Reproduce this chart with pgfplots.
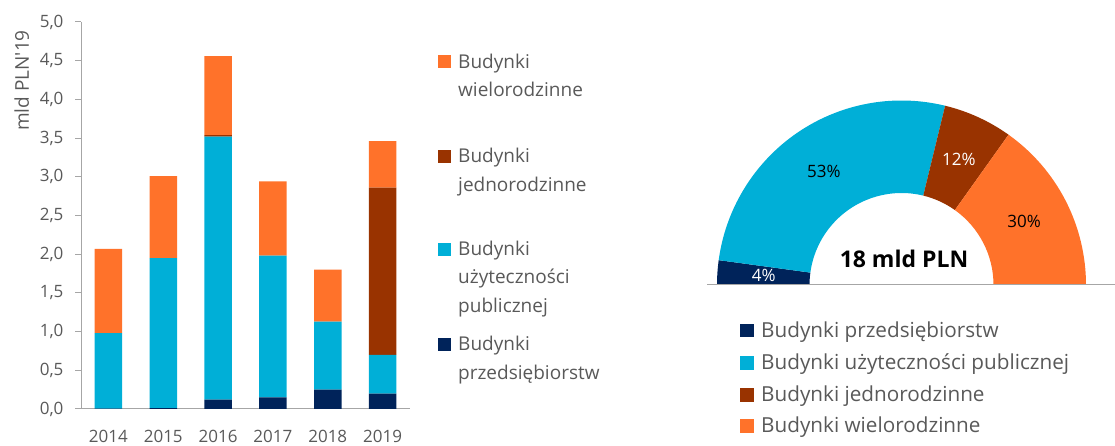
\documentclass[border=0pt]{standalone}
\usepackage{pgfplots}
\pgfplotsset{compat=1.18}
\usepackage{pgfplotstable}
\usepackage{fontspec}
\setmainfont{Open Sans}

\definecolor{cNavy}{RGB}{0,35,90}
\definecolor{cBlue}{RGB}{0,175,215}
\definecolor{cBrown}{RGB}{153,51,0}
\definecolor{cOrange}{RGB}{255,114,42}
\definecolor{cText}{RGB}{89,89,89}
\definecolor{cAxis}{RGB}{166,166,166}

% mld PLN'19 per year
\pgfplotstableread{
x przeds publ jedno wielo
0 0.005 0.975 0.00 1.09
1 0.010 1.940 0.00 1.06
2 0.120 3.400 0.02 1.02
3 0.150 1.830 0.00 0.96
4 0.250 0.880 0.00 0.67
5 0.200 0.500 2.16 0.60
}\bars

% share of total, per cent
\def\vPrz{4.3}
\def\vPub{53.3}
\def\vJed{12.1}
\def\vWie{30.3}

\newcommand{\slice}[3]{%
  \fill[#3] ([shift={(#1:92pt)}]axis cs:0,0) -- ([shift={(#1:184.5pt)}]axis cs:0,0)
    arc[start angle=#1,end angle=#2,radius=184.5pt]
    -- ([shift={(#2:92pt)}]axis cs:0,0)
    arc[start angle=#2,end angle=#1,radius=92pt] -- cycle;}

\newcommand{\legfont}{\fontsize{19}{22}\selectfont}
\newcommand{\legfontB}{\fontsize{20.7}{24}\selectfont}

\begin{document}
\begin{tikzpicture}
\path[use as bounding box] (0,0) rectangle (1115pt,446pt);

\begin{axis}[
  at={(81pt,37pt)}, anchor=south west,
  scale only axis, width=329pt, height=387pt,
  ybar stacked, bar width=27.5pt,
  xmin=-0.5, xmax=5.5, ymin=0, ymax=5,
  xtick={0,...,5}, xticklabels={2014,2015,2016,2017,2018,2019},
  ytick={0,0.5,...,5},
  axis x line*=bottom, axis y line*=left,
  axis line style={cAxis, line width=1pt},
  tick align=outside, major tick length=6pt,
  xtick style={draw=none},
  ytick style={cAxis, line width=1pt},
  ticklabel style={text=cText, font=\fontsize{17}{20}\selectfont},
  /pgf/number format/assume math mode=true,
  yticklabel style={xshift=-8pt, /pgf/number format/.cd, fixed, fixed zerofill, precision=1, use comma},
  xticklabel style={yshift=-12pt},
]
\addplot[fill=cNavy, draw=none] table[x=x, y=przeds]{\bars};
\addplot[fill=cBlue, draw=none] table[x=x, y=publ]{\bars};
\addplot[fill=cBrown, draw=none] table[x=x, y=jedno]{\bars};
\addplot[fill=cOrange, draw=none] table[x=x, y=wielo]{\bars};
\end{axis}

\node[rotate=90, anchor=east, text=cText, font=\fontsize{19}{22}\selectfont, inner sep=0pt]
  at (21.7pt,416pt) {mld PLN\textquotesingle 19};

% middle legend
\begin{scope}[every node/.style={anchor=base west, inner sep=0pt, text=cText, font=\legfont}]
\fill[cOrange] (438pt,378.3pt) rectangle ++(13pt,13pt);
\node at (458pt,377.7pt) {Budynki};
\node at (458pt,349.3pt) {wielorodzinne};
\fill[cBrown] (438pt,283.3pt) rectangle ++(13pt,13pt);
\node at (458pt,283.3pt) {Budynki};
\node at (458pt,254.3pt) {jednorodzinne};
\fill[cBlue] (438pt,190pt) rectangle ++(13pt,13pt);
\node at (458pt,190pt) {Budynki};
\node at (458pt,162pt) {użyteczności};
\node at (458pt,133.3pt) {publicznej};
\fill[cNavy] (438pt,95pt) rectangle ++(13pt,13pt);
\node at (458pt,95pt) {Budynki};
\node at (458pt,66.7pt) {przedsiębiorstw};
\end{scope}

\pgfmathsetmacro\aA{180}
\pgfmathsetmacro\aB{\aA-1.8*\vPrz}
\pgfmathsetmacro\aC{\aB-1.8*\vPub}
\pgfmathsetmacro\aD{\aC-1.8*\vJed}
\pgfmathsetmacro\aE{\aD-1.8*\vWie}

\begin{axis}[
  at={(717pt,161pt)}, anchor=south west,
  scale only axis, width=369pt, height=185pt,
  xmin=-184.5, xmax=184.5, ymin=0, ymax=185,
  hide axis, clip=true,
]
\slice{\aA}{\aB}{cNavy}
\slice{\aB}{\aC}{cBlue}
\slice{\aC}{\aD}{cBrown}
\slice{\aD}{\aE}{cOrange}
\pgfmathsetmacro\mA{(\aA+\aB)/2}
\pgfmathsetmacro\mB{(\aB+\aC)/2}
\pgfmathsetmacro\mC{(\aC+\aD)/2}
\pgfmathsetmacro\mD{(\aD+\aE)/2}
\node[text=white, font=\fontsize{17}{20}\selectfont] at ([shift={(\mA:138pt)}]axis cs:0,0) {4\%};
\node[text=black, font=\fontsize{17}{20}\selectfont] at ([shift={(\mB:138pt)}]axis cs:0,0) {53\%};
\node[text=white, font=\fontsize{17}{20}\selectfont] at ([shift={(\mC:138pt)}]axis cs:0,0) {12\%};
\node[text=black, font=\fontsize{17}{20}\selectfont] at ([shift={(\mD:138pt)}]axis cs:0,0) {30\%};
\node[font=\bfseries\fontsize{23}{26}\selectfont] at (axis cs:2.5,26) {18 mld PLN};
\end{axis}

\draw[cAxis, line width=1pt] (707pt,161pt) -- (1115pt,161pt);

% bottom legend
\begin{scope}[every node/.style={anchor=base west, inner sep=0pt, text=cText, font=\legfontB}]
\fill[cNavy] (740pt,108.7pt) rectangle ++(13.5pt,13.5pt);
\node at (761pt,108.7pt) {Budynki przedsiębiorstw};
\fill[cBlue] (740pt,76pt) rectangle ++(13.5pt,13.5pt);
\node at (761pt,76pt) {Budynki użyteczności publicznej};
\fill[cBrown] (740pt,44.3pt) rectangle ++(13.5pt,13.5pt);
\node at (761pt,44.3pt) {Budynki jednorodzinne};
\fill[cOrange] (740pt,13.3pt) rectangle ++(13.5pt,13.5pt);
\node at (761pt,13.3pt) {Budynki wielorodzinne};
\end{scope}
\end{tikzpicture}
\end{document}
